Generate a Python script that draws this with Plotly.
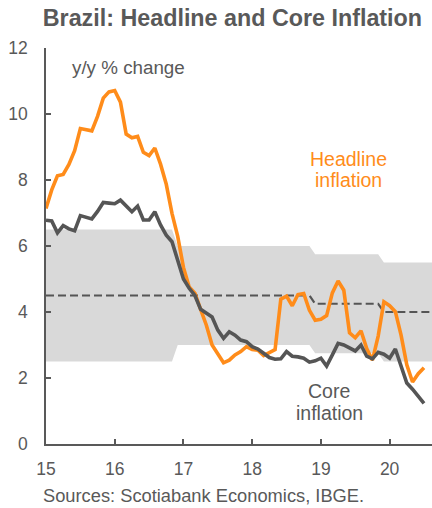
import plotly.graph_objects as go

# Monthly data, Jan 2015 .. Jul 2020 (month index 0 = Jan 2015)
headline = [
    7.14, 7.70, 8.13, 8.17, 8.47, 8.89, 9.56, 9.53, 9.49, 9.93, 10.48, 10.67,   # 2015
    10.71, 10.36, 9.39, 9.28, 9.32, 8.84, 8.74, 8.97, 8.48, 7.87, 6.99, 6.29,   # 2016
    5.35, 4.76, 4.57, 4.08, 3.60, 3.00, 2.71, 2.46, 2.54, 2.70, 2.80, 2.95,     # 2017
    2.86, 2.84, 2.68, 2.76, 2.86, 4.39, 4.48, 4.19, 4.53, 4.56, 4.05, 3.75,     # 2018
    3.78, 3.89, 4.58, 4.94, 4.66, 3.37, 3.22, 3.43, 2.89, 2.54, 3.27, 4.31,     # 2019
    4.19, 4.01, 3.30, 2.40, 1.88, 2.13, 2.31,                                   # 2020
]
core = [
    6.78, 6.76, 6.40, 6.62, 6.52, 6.46, 6.92, 6.86, 6.82, 7.05, 7.32, 7.30,     # 2015
    7.28, 7.39, 7.22, 7.04, 7.21, 6.79, 6.79, 7.04, 6.64, 6.33, 6.13, 5.60,     # 2016
    5.00, 4.72, 4.50, 4.08, 3.95, 3.85, 3.45, 3.20, 3.40, 3.30, 3.15, 3.10,     # 2017
    2.95, 2.88, 2.75, 2.62, 2.57, 2.58, 2.80, 2.66, 2.64, 2.60, 2.48, 2.52,     # 2018
    2.60, 2.36, 2.70, 3.05, 3.00, 2.90, 2.82, 3.00, 2.66, 2.58, 2.78, 2.72,     # 2019
    2.60, 2.88, 2.35, 1.85, 1.66, 1.45, 1.23,                                   # 2020
]
# Inflation target (centre) and tolerance band; each December carries next year's target
target = [4.5] * 47 + [4.25] * 12 + [4.0] * 10
band_low = [2.5] * 23 + [3.0] * 24 + [2.75] * 12 + [2.5] * 10
band_high = [6.5] * 23 + [6.0] * 24 + [5.75] * 12 + [5.5] * 10

months = list(range(len(headline)))
band_months = list(range(len(target)))

year_ticks = [0, 12, 24, 36, 48, 60]
year_labels = ["15", "16", "17", "18", "19", "20"]
y_ticks = [0, 2, 4, 6, 8, 10, 12]

ORANGE = "#FF8C1A"
DARK = "#555555"
TEXT = "#595959"
BAND = "#D9D9D9"
FONT = "Liberation Sans, Arial, sans-serif"

W, H = 432, 508
L, R, T, B = 46, 0, 48, 64
pw, ph = W - L - R, H - T - B


def px(xp):
    return (xp - L) / pw


def py(yp):
    return (H - B - yp) / ph


def label(text, x, y, color, size, xanchor="center"):
    return dict(text=text, x=px(x), y=py(y), xref="paper", yref="paper",
                xanchor=xanchor, yanchor="middle", showarrow=False,
                font=dict(size=size, color=color, family=FONT))


fig = go.Figure()
fig.add_trace(go.Scatter(x=band_months, y=band_low, mode="lines",
                         line=dict(width=0, color=BAND), hoverinfo="skip", showlegend=False))
fig.add_trace(go.Scatter(x=band_months, y=band_high, mode="lines", fill="tonexty",
                         fillcolor=BAND, line=dict(width=0, color=BAND),
                         hoverinfo="skip", showlegend=False))
fig.add_trace(go.Scatter(x=band_months, y=target, mode="lines",
                         line=dict(color=DARK, width=2.2, dash="8px,4px"), showlegend=False))
fig.add_trace(go.Scatter(x=months, y=headline, mode="lines", name="Headline inflation",
                         line=dict(color=ORANGE, width=3.6), showlegend=False))
fig.add_trace(go.Scatter(x=months, y=core, mode="lines", name="Core inflation",
                         line=dict(color=DARK, width=3.6), showlegend=False))

fig.update_layout(
    width=W, height=H,
    margin=dict(l=L, r=R, t=T, b=B, autoexpand=False),
    paper_bgcolor="white", plot_bgcolor="white",
    font=dict(family=FONT, color=TEXT, size=17),
    title=dict(text="<b>Brazil: Headline and Core Inflation</b>",
               xref="container", yref="container",
               x=0.538, xanchor="center", y=1 - 18 / H, yanchor="middle",
               font=dict(size=23.3, color=TEXT, family=FONT)),
    xaxis=dict(range=[0, 67.4], tickvals=year_ticks, ticktext=year_labels, automargin=False,
               showgrid=False, zeroline=False, showline=True, linecolor=TEXT, linewidth=1.5,
               ticks="inside", ticklen=5, tickcolor=TEXT, tickwidth=1.5,
               ticklabelstandoff=8, tickfont=dict(size=17.5, color=TEXT)),
    yaxis=dict(range=[0, 12], tickvals=y_ticks, automargin=False,
               showgrid=False, zeroline=False, showline=True, linecolor=TEXT, linewidth=1.5,
               ticks="inside", ticklen=5, tickcolor=TEXT, tickwidth=1.5,
               ticklabelstandoff=13, tickfont=dict(size=17.5, color=TEXT)),
    annotations=[
        label("y/y % change", 70, 67, TEXT, 18.8, xanchor="left"),
        label("Headline", 348, 158.5, ORANGE, 19.5),
        label("inflation", 348, 180.5, ORANGE, 19.5),
        label("Core", 328.5, 391, TEXT, 19.5),
        label("inflation", 329, 413, TEXT, 19.5),
        label("Sources: Scotiabank Economics, IBGE.", 41, 495, TEXT, 18.3, xanchor="left"),
    ],
)

fig.write_html("out.html", config={"displayModeBar": False},
               post_script="document.body.style.margin='0';document.body.style.overflow='hidden';")
